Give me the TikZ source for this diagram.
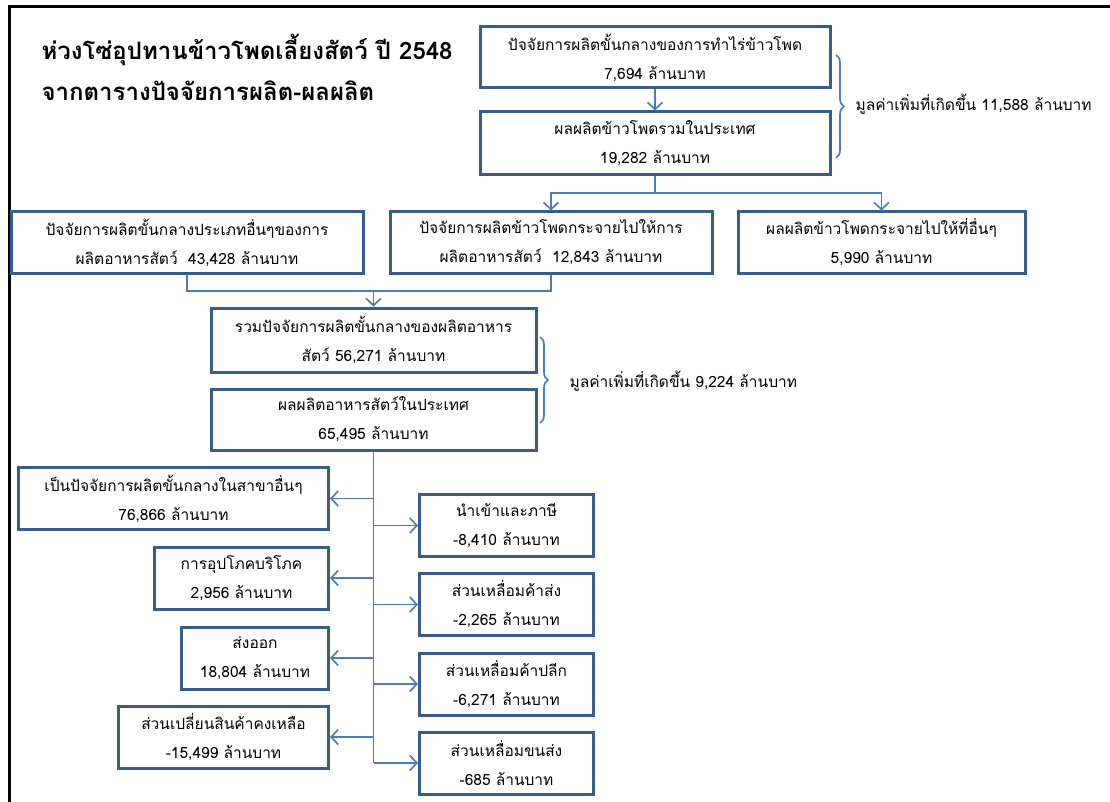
\documentclass[tikz,border=0pt]{standalone}
\usepackage{fontspec}
\setmainfont[Script=Thai]{Loma}
\usetikzlibrary{arrows.meta,decorations.pathreplacing}

\definecolor{boxblue}{RGB}{56,93,138}
\definecolor{lineblue}{RGB}{74,126,187}

\begin{document}
\begin{tikzpicture}[x=1pt,y=-1pt,
    box/.style={draw=boxblue, line width=3pt, align=center, inner sep=0pt,
      font=\fontsize{15.5}{29}\selectfont},
    link/.style={draw=lineblue, line width=1.7pt},
    tip/.style={link, -{Straight Barb[length=7pt,width=15pt]}},
    curly/.style={link, decorate, decoration={brace,amplitude=8pt}},
    note/.style={anchor=west, font=\fontsize{15.5}{18}\selectfont}]

  \useasboundingbox (0,0) rectangle (1110,802);
  % frame
  \draw[line width=3pt] (9,802) -- (9,7) -- (1110,7);

  % title
  \node[anchor=west, align=left, font=\bfseries\fontsize{24}{41}\selectfont] (title) at (38,67)
    {ห่วงโซ่อุปทานข้าวโพดเลี้ยงสัตว์ ปี 2548\\จากตารางปัจจัยการผลิต-ผลผลิต};

  % corn
  \node[box, minimum width=350, minimum height=61] (farm) at (655,57.5)
    {ปัจจัยการผลิตขั้นกลางของการทำไร่ข้าวโพด\\7,694 ล้านบาท};
  \node[box, minimum width=350, minimum height=63] (corn) at (655,143.5)
    {ผลผลิตข้าวโพดรวมในประเทศ\\19,282 ล้านบาท};
  \draw[tip] (farm.south) -- (corn.north);
  \draw[curly] (836,55) -- (836,158);
  \node[note] (va1) at (852,104) {มูลค่าเพิ่มที่เกิดขึ้น 11,588 ล้านบาท};

  % where the corn goes
  \node[box, minimum width=352, minimum height=61] (other) at (187,242.5)
    {ปัจจัยการผลิตขั้นกลางประเภทอื่นๆของการ\\ผลิตอาหารสัตว์\ \ 43,428 ล้านบาท};
  \node[box, minimum width=322, minimum height=61] (tofeed) at (551,242.5)
    {ปัจจัยการผลิตข้าวโพดกระจายไปให้การ\\ผลิตอาหารสัตว์\ \ 12,843 ล้านบาท};
  \node[box, minimum width=287, minimum height=61] (rest) at (881.5,242.5)
    {ผลผลิตข้าวโพดกระจายไปให้ที่อื่นๆ\\5,990 ล้านบาท};
  \coordinate (split) at (655,193);
  \draw[link] (corn.south) -- (split);
  \draw[tip] (split) -| (tofeed.north);
  \draw[tip] (split) -| (rest.north);

  % feed
  \node[box, minimum width=325, minimum height=64] (feedin) at (373.5,340)
    {รวมปัจจัยการผลิตขั้นกลางของผลิตอาหาร\\สัตว์ 56,271 ล้านบาท};
  \node[box, minimum width=325, minimum height=61] (feed) at (373.5,419.5)
    {ผลผลิตอาหารสัตว์ในประเทศ\\65,495 ล้านบาท};
  \coordinate (join) at (373.5,291);
  \draw[link] (other.south) |- (join) -| (tofeed.south);
  \draw[tip] (join) -- (feedin.north);
  \draw[curly] (540,337) -- (540,423);
  \node[note] (va2) at (566,381) {มูลค่าเพิ่มที่เกิดขึ้น 9,224 ล้านบาท};

  % uses of feed
  \foreach \txt/\yy/\ww [count=\n] in {
      {เป็นปัจจัยการผลิตขั้นกลางในสาขาอื่นๆ\\76,866 ล้านบาท}/498.5/310,
      {การอุปโภคบริโภค\\2,956 ล้านบาท}/578/174,
      {ส่งออก\\18,804 ล้านบาท}/658/147,
      {ส่วนเปลี่ยนสินค้าคงเหลือ\\-15,499 ล้านบาท}/737/210}
    {
      \node[box, anchor=east, minimum width=\ww, minimum height=62] (use\n) at (330,\yy) {\txt};
    }
  \foreach \txt/\yy [count=\n] in {
      {นำเข้าและภาษี\\-8,410 ล้านบาท}/525.5,
      {ส่วนเหลื่อมค้าส่ง\\-2,265 ล้านบาท}/604.5,
      {ส่วนเหลื่อมค้าปลีก\\-6,271 ล้านบาท}/684,
      {ส่วนเหลื่อมขนส่ง\\-685 ล้านบาท}/763}
    {
      \node[box, anchor=west, minimum width=174, minimum height=62] (margin\n) at (418,\yy) {\txt};
    }
  \draw[link] (feed.south) -- (feed.south |- margin4.west);
  \foreach \n in {1,...,4} {
    \draw[tip] (feed.south |- use\n.east) -- (use\n.east);
    \draw[tip] (feed.south |- margin\n.west) -- (margin\n.west);
  }
\end{tikzpicture}
\end{document}
